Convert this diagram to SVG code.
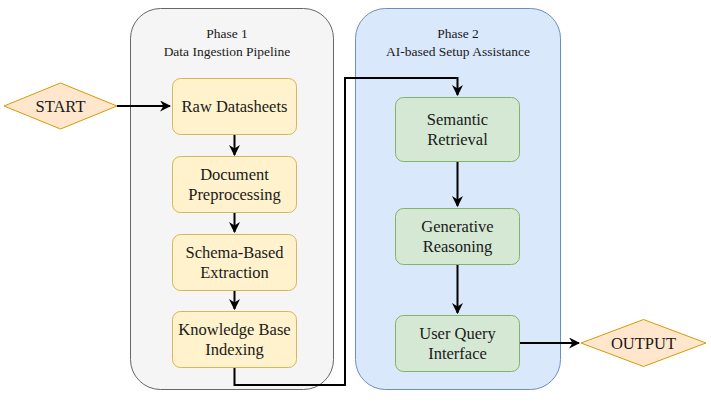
<svg xmlns="http://www.w3.org/2000/svg" width="711" height="411" viewBox="0 0 711 411">
<defs>
<style>
.t{font-family:"Liberation Serif","Times New Roman",serif;font-size:16.5px;fill:#1a1a1a;text-anchor:middle}
.h{font-family:"Liberation Serif","Times New Roman",serif;font-size:13.5px;fill:#1a1a1a;text-anchor:middle}
.y{fill:#fff2cc;stroke:#d6b656;stroke-width:1}
.g{fill:#d5e8d4;stroke:#82b366;stroke-width:1}
.d{fill:#ffe6cc;stroke:#d79b00;stroke-width:1}
.c{fill:none;stroke:#000;stroke-width:2}
</style>
<marker id="a" viewBox="0 0 10 10" refX="9" refY="5" markerWidth="5.5" markerHeight="5.5" orient="auto" markerUnits="strokeWidth">
<path d="M0,0 L10,5 L0,10 L3,5 Z" fill="#000"/>
</marker>
</defs>
<rect width="711" height="411" fill="#fff"/>
<g id="phase1">
<rect x="130.5" y="8.5" width="203" height="381" rx="30" fill="#f5f5f5" stroke="#666666"/>
<text class="h" x="227" y="38">Phase 1</text>
<text class="h" x="227" y="56">Data Ingestion Pipeline</text>
</g>
<g id="phase2">
<rect x="355.5" y="8.5" width="205" height="381" rx="30" fill="#dae8fc" stroke="#6c8ebf"/>
<text class="h" x="458" y="38">Phase 2</text>
<text class="h" x="458" y="56">AI-based Setup Assistance</text>
</g>
<g id="connectors">
<path class="c" d="M117,106 H170" marker-end="url(#a)"/>
<path class="c" d="M234.5,135 V155" marker-end="url(#a)"/>
<path class="c" d="M234.5,212 V232" marker-end="url(#a)"/>
<path class="c" d="M234.5,290 V309" marker-end="url(#a)"/>
<path class="c" d="M234.5,367 V385 H345 V78 H457.5 V95" marker-end="url(#a)"/>
<path class="c" d="M457.5,162 V206" marker-end="url(#a)"/>
<path class="c" d="M457.5,264 V313" marker-end="url(#a)"/>
<path class="c" d="M520,343 H579" marker-end="url(#a)"/>
</g>
<g id="start">
<polygon class="d" points="4,106 60.5,83 117,106 60.5,129"/>
<text class="t" x="60.5" y="112">START</text>
</g>
<g id="raw">
<rect class="y" x="172.5" y="78.5" width="124" height="56" rx="8"/>
<text class="t" x="234.5" y="112">Raw Datasheets</text>
</g>
<g id="doc">
<rect class="y" x="172.5" y="156.5" width="124" height="56" rx="8"/>
<text class="t" x="234.5" y="180">Document</text>
<text class="t" x="234.5" y="200">Preprocessing</text>
</g>
<g id="schema">
<rect class="y" x="172.5" y="234.5" width="124" height="56" rx="8"/>
<text class="t" x="234.5" y="258">Schema-Based</text>
<text class="t" x="234.5" y="278">Extraction</text>
</g>
<g id="kb">
<rect class="y" x="172.5" y="311.5" width="124" height="56" rx="8"/>
<text class="t" x="234.5" y="335">Knowledge Base</text>
<text class="t" x="234.5" y="355">Indexing</text>
</g>
<g id="semantic">
<rect class="g" x="395.5" y="97.5" width="124" height="64" rx="8"/>
<text class="t" x="457.5" y="125">Semantic</text>
<text class="t" x="457.5" y="145">Retrieval</text>
</g>
<g id="generative">
<rect class="g" x="395.5" y="208.5" width="124" height="56" rx="8"/>
<text class="t" x="457.5" y="232">Generative</text>
<text class="t" x="457.5" y="252">Reasoning</text>
</g>
<g id="uqi">
<rect class="g" x="395.5" y="315.5" width="124" height="56" rx="8"/>
<text class="t" x="457.5" y="339">User Query</text>
<text class="t" x="457.5" y="359">Interface</text>
</g>
<g id="output">
<polygon class="d" points="581,343 643.5,319.5 706,343 643.5,366.5"/>
<text class="t" x="643.5" y="349">OUTPUT</text>
</g>
</svg>
